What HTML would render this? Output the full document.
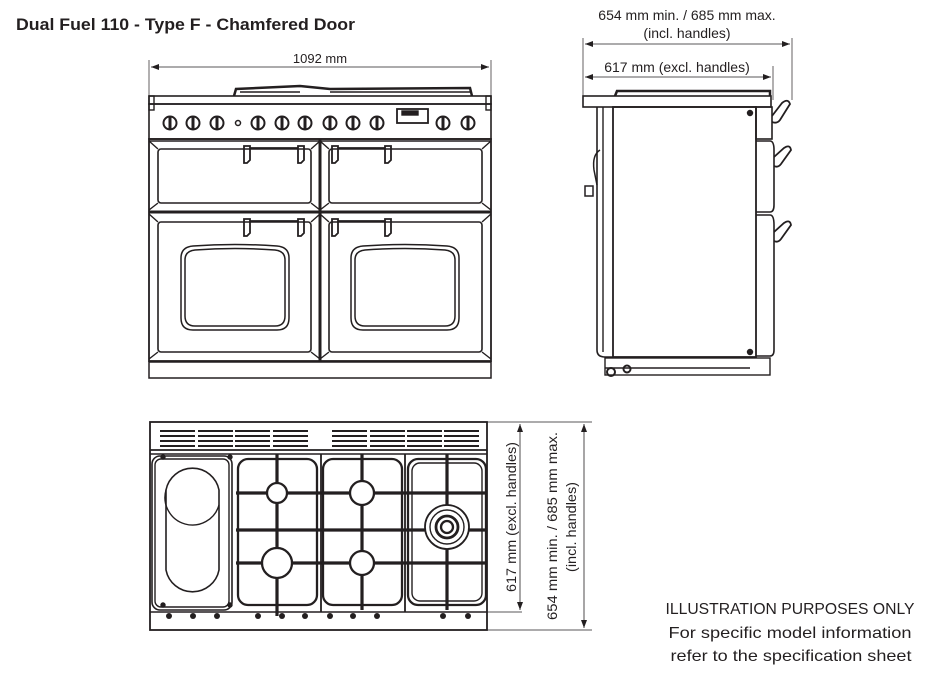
<!DOCTYPE html>
<html><head><meta charset="utf-8"><style>
html,body{margin:0;padding:0;background:#fff}
svg{display:block}
text{font-family:"Liberation Sans",sans-serif;fill:#231f20}
</style></head><body>
<svg width="925" height="673" viewBox="0 0 925 673" xmlns="http://www.w3.org/2000/svg">
<defs>
<marker id="ar" markerWidth="8" markerHeight="6" refX="8" refY="3" orient="auto-start-reverse" markerUnits="userSpaceOnUse"><path d="M0,0 L8,3 L0,6z" fill="#231f20"/></marker>
</defs>
<text x="16" y="30" font-size="17" font-weight="bold" textLength="339" lengthAdjust="spacingAndGlyphs">Dual Fuel 110 - Type F - Chamfered Door</text>

<!-- FRONT VIEW -->
<g stroke="#231f20" fill="none" stroke-width="1.4">
<line x1="149" y1="60" x2="149" y2="98" stroke-width="0.7"/>
<line x1="491" y1="60" x2="491" y2="98" stroke-width="0.7"/>
<line x1="151" y1="67" x2="489" y2="67" marker-start="url(#ar)" marker-end="url(#ar)" stroke-width="0.8"/>
<path d="M234,96 L236,89 L300,86 L330,89 L470,88 L472,96" stroke-width="2.5"/>
<path d="M240,92 h60 M330,92 h140" stroke-width="1.5"/>
<rect x="149" y="96" width="342" height="8" stroke-width="1.6"/>
<rect x="149" y="96" width="5" height="14"/><rect x="486" y="96" width="5" height="14"/>
<rect x="149" y="104" width="342" height="35" stroke-width="1.6"/>
<g stroke-width="2">
<circle cx="170" cy="123" r="6.5"/><circle cx="193" cy="123" r="6.5"/><circle cx="217" cy="123" r="6.5"/>
<circle cx="258" cy="123" r="6.5"/><circle cx="282" cy="123" r="6.5"/><circle cx="305" cy="123" r="6.5"/>
<circle cx="330" cy="123" r="6.5"/><circle cx="353" cy="123" r="6.5"/><circle cx="377" cy="123" r="6.5"/>
<circle cx="443" cy="123" r="6.5"/><circle cx="468" cy="123" r="6.5"/>
</g>
<g stroke-width="3"><line x1="170" y1="117" x2="170" y2="129"/><line x1="193" y1="117" x2="193" y2="129"/><line x1="217" y1="117" x2="217" y2="129"/><line x1="258" y1="117" x2="258" y2="129"/><line x1="282" y1="117" x2="282" y2="129"/><line x1="305" y1="117" x2="305" y2="129"/><line x1="330" y1="117" x2="330" y2="129"/><line x1="353" y1="117" x2="353" y2="129"/><line x1="377" y1="117" x2="377" y2="129"/><line x1="443" y1="117" x2="443" y2="129"/><line x1="468" y1="117" x2="468" y2="129"/></g>
<circle cx="238" cy="123" r="2.5" stroke-width="1.5"/>
<rect x="397" y="109" width="31" height="14" stroke-width="1.8"/>
<rect x="402" y="111" width="16" height="4" fill="#231f20"/>
<rect x="149" y="139" width="342" height="222" stroke-width="1.8"/>
<line x1="320" y1="139" x2="320" y2="361" stroke-width="3"/>
<line x1="149" y1="212" x2="491" y2="212" stroke-width="3"/>
<line x1="149" y1="141" x2="491" y2="141" stroke-width="1.5"/>
<rect x="158" y="149" width="153" height="54" rx="3" stroke-width="1.6"/>
<rect x="329" y="149" width="153" height="54" rx="3" stroke-width="1.6"/>
<rect x="158" y="222" width="153" height="130" rx="3" stroke-width="1.6"/>
<rect x="329" y="222" width="153" height="130" rx="3" stroke-width="1.6"/>
<path d="M149,141 L158,149 M320,141 L311,149 M149,210 L158,203 M320,210 L311,203 M320,141 L329,149 M491,141 L482,149 M320,210 L329,203 M491,210 L482,203"/>
<path d="M149,214 L158,222 M320,214 L311,222 M149,359 L158,352 M320,359 L311,352 M320,214 L329,222 M491,214 L482,222 M320,359 L329,352 M491,359 L482,352"/>
<g stroke-width="1.8">
<path d="M244,146 h6 v14 l-3,3 h-3z M298,146 h6 v14 l-3,3 h-3z M332,146 h6 v14 l-3,3 h-3z M385,146 h6 v14 l-3,3 h-3z"/>
<path d="M244,219 h6 v14 l-3,3 h-3z M298,219 h6 v14 l-3,3 h-3z M332,219 h6 v14 l-3,3 h-3z M385,219 h6 v14 l-3,3 h-3z"/>
<line x1="250" y1="148" x2="298" y2="148"/><line x1="338" y1="148" x2="385" y2="148"/>
<line x1="250" y1="221" x2="298" y2="221"/><line x1="338" y1="221" x2="385" y2="221"/>
</g>
<g stroke-width="1.5">
<path d="M181,258 Q181,247 193,246 Q235,243 277,246 Q289,247 289,258 L289,318 Q289,330 277,330 L193,330 Q181,330 181,318z"/>
<path d="M185,260 Q185,251 195,250 Q235,247 275,250 Q285,251 285,260 L285,316 Q285,326 275,326 L195,326 Q185,326 185,316z"/>
<path d="M351,258 Q351,247 363,246 Q405,243 447,246 Q459,247 459,258 L459,318 Q459,330 447,330 L363,330 Q351,330 351,318z"/>
<path d="M355,260 Q355,251 365,250 Q405,247 445,250 Q455,251 455,260 L455,316 Q455,326 445,326 L365,326 Q355,326 355,316z"/>
</g>
<rect x="149" y="362" width="342" height="16" stroke-width="1.5"/>
</g>
<text x="320" y="63" font-size="13" text-anchor="middle">1092 mm</text>

<!-- SIDE VIEW -->
<g stroke="#231f20" fill="none" stroke-width="1.4">
<text x="687" y="20" font-size="14" text-anchor="middle" stroke="none">654 mm min. / 685 mm max.</text>
<text x="687" y="38" font-size="14" text-anchor="middle" stroke="none">(incl. handles)</text>
<text x="677" y="72" font-size="14" text-anchor="middle" stroke="none">617 mm (excl. handles)</text>
<line x1="583" y1="38" x2="583" y2="100" stroke-width="0.7"/>
<line x1="792" y1="38" x2="792" y2="100" stroke-width="0.7"/>
<line x1="773" y1="66" x2="773" y2="100" stroke-width="0.7"/>
<line x1="585" y1="44" x2="790" y2="44" marker-start="url(#ar)" marker-end="url(#ar)" stroke-width="0.8"/>
<line x1="585" y1="77" x2="771" y2="77" marker-start="url(#ar)" marker-end="url(#ar)" stroke-width="0.8"/>
<path d="M615,96 L617,91 L770,91 L770,96" stroke-width="2.5"/>
<rect x="583" y="96" width="188" height="11" stroke-width="1.6"/>
<rect x="613" y="107" width="143" height="250" stroke-width="1.8"/>
<path d="M597,107 V350 Q597,357 605,357 H613" stroke-width="1.6"/>
<path d="M603,107 V352" />
<rect x="756" y="107" width="16" height="32" stroke-width="1.6"/>
<path d="M756,141 H770 Q774,141 774,150 V205 Q774,212 770,212 H756" stroke-width="1.6"/>
<path d="M756,215 H770 Q774,215 774,225 V350 Q774,356 770,356 H756" stroke-width="1.6"/>
<path d="M772,116 L782,103 Q788,98 790,104 L780,120 Q777,124 772,122" stroke-width="1.8"/>
<path d="M774,157 L784,148 Q790,144 791,150 L781,164 Q778,168 774,166" stroke-width="1.8"/>
<path d="M774,232 L784,223 Q790,219 791,225 L781,239 Q778,243 774,241" stroke-width="1.8"/>
<path d="M600,150 Q592,155 594,170 L597,185" stroke-width="1.5"/>
<rect x="585" y="186" width="8" height="10" stroke-width="1.5"/>
<circle cx="750" cy="113" r="2.5" fill="#231f20"/><circle cx="750" cy="352" r="2.5" fill="#231f20"/>
<rect x="605" y="358" width="165" height="17" stroke-width="1.4"/>
<line x1="605" y1="368" x2="750" y2="368"/>
<circle cx="611" cy="372" r="4" stroke-width="2"/><circle cx="627" cy="369" r="3.5" stroke-width="2"/>
</g>

<!-- TOP VIEW -->
<g stroke="#231f20" fill="none" stroke-width="1.4">
<rect x="150" y="422" width="337" height="208" stroke-width="1.8"/>
<line x1="150" y1="450" x2="487" y2="450" stroke-width="1.8"/>
<line x1="150" y1="454" x2="487" y2="454"/>
<g stroke-width="2">
<path d="M160,431h35M160,436h35M160,441h35M160,446h35"/>
<path d="M198,431h35M198,436h35M198,441h35M198,446h35"/>
<path d="M235,431h35M235,436h35M235,441h35M235,446h35"/>
<path d="M273,431h35M273,436h35M273,441h35M273,446h35"/>
<path d="M332,431h35M332,436h35M332,441h35M332,446h35"/>
<path d="M370,431h35M370,436h35M370,441h35M370,446h35"/>
<path d="M407,431h35M407,436h35M407,441h35M407,446h35"/>
<path d="M444,431h35M444,436h35M444,441h35M444,446h35"/>
</g>
<rect x="152" y="456" width="80" height="154" rx="8" stroke-width="1.6"/>
<rect x="155" y="459" width="74" height="148" rx="6"/>
<path d="M166,490 A27,27 0 0 1 219,490 L219,570 A27,27 0 0 1 166,570 Z" stroke-width="1.6"/>
<path d="M166,490 A27,27 0 0 0 219,505"/>
<circle cx="163" cy="457" r="2" fill="#231f20"/><circle cx="230" cy="457" r="2" fill="#231f20"/><circle cx="163" cy="605" r="2" fill="#231f20"/><circle cx="230" cy="605" r="2" fill="#231f20"/>
<rect x="238" y="459" width="79" height="146" rx="10" stroke-width="2.3"/>
<rect x="323" y="459" width="79" height="146" rx="10" stroke-width="2.3"/>
<rect x="408" y="459" width="78" height="146" rx="10" stroke-width="2.3"/>
<rect x="412" y="463" width="70" height="138" rx="8"/>
<g stroke-width="3.2">
<line x1="236" y1="493" x2="487" y2="493"/><line x1="236" y1="530" x2="487" y2="530"/><line x1="236" y1="563" x2="487" y2="563"/>
<line x1="277" y1="454" x2="277" y2="616"/><line x1="362" y1="454" x2="362" y2="610"/><line x1="447" y1="454" x2="447" y2="610"/>
<line x1="321" y1="454" x2="321" y2="612" stroke-width="1.8"/><line x1="405" y1="454" x2="405" y2="612" stroke-width="1.8"/>
</g>
<g fill="#fff" stroke-width="2.3">
<circle cx="277" cy="493" r="10"/><circle cx="362" cy="493" r="12"/><circle cx="277" cy="563" r="15"/><circle cx="362" cy="563" r="12"/>
<circle cx="447" cy="527" r="22" stroke-width="1.8"/><circle cx="447" cy="527" r="17" stroke-width="1.4"/><circle cx="447" cy="527" r="11" stroke-width="2.8"/><circle cx="447" cy="527" r="6"/>
</g>
<line x1="150" y1="612" x2="487" y2="612"/>
<g fill="#231f20" stroke="none">
<circle cx="169" cy="616" r="3"/><circle cx="193" cy="616" r="3"/><circle cx="217" cy="616" r="3"/><circle cx="258" cy="616" r="3"/><circle cx="282" cy="616" r="3"/><circle cx="305" cy="616" r="3"/><circle cx="330" cy="616" r="3"/><circle cx="353" cy="616" r="3"/><circle cx="377" cy="616" r="3"/><circle cx="443" cy="616" r="3"/><circle cx="468" cy="616" r="3"/>
</g>
<line x1="487" y1="422" x2="592" y2="422" stroke-width="0.7"/>
<line x1="487" y1="612" x2="522" y2="612" stroke-width="0.7"/>
<line x1="487" y1="630" x2="592" y2="630" stroke-width="0.7"/>
<line x1="520" y1="424" x2="520" y2="610" marker-start="url(#ar)" marker-end="url(#ar)" stroke-width="0.8"/>
<line x1="584" y1="424" x2="584" y2="628" marker-start="url(#ar)" marker-end="url(#ar)" stroke-width="0.8"/>
</g>
<text transform="translate(516,517) rotate(-90)" font-size="14" text-anchor="middle" textLength="150" lengthAdjust="spacingAndGlyphs">617 mm (excl. handles)</text>
<text transform="translate(557,526) rotate(-90)" font-size="14" text-anchor="middle" textLength="188" lengthAdjust="spacingAndGlyphs">654 mm min. / 685 mm max.</text>
<text transform="translate(576,527) rotate(-90)" font-size="14" text-anchor="middle" textLength="90" lengthAdjust="spacingAndGlyphs">(incl. handles)</text>

<text x="790" y="614" font-size="16" text-anchor="middle" textLength="249" lengthAdjust="spacingAndGlyphs">ILLUSTRATION PURPOSES ONLY</text>
<text x="790" y="638" font-size="16" text-anchor="middle" textLength="243" lengthAdjust="spacingAndGlyphs">For specific model information</text>
<text x="791" y="661" font-size="16" text-anchor="middle" textLength="241" lengthAdjust="spacingAndGlyphs">refer to the specification sheet</text>
</svg>
</body></html>
